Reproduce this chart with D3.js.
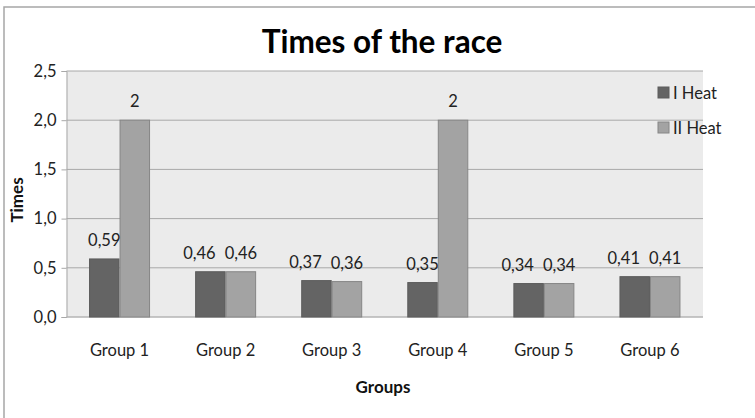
<!DOCTYPE html>
<html>
<head>
<meta charset="utf-8">
<script src="https://cdn.jsdelivr.net/npm/d3@7"></script>
<style>
  html, body { margin: 0; padding: 0; background: #fff; }
  svg { display: block; font-family: Lato, "Open Sans", sans-serif; }
</style>
</head>
<body>
<svg id="chart" width="755" height="418"></svg>
<script>
// Race times per group, two heats
const groups = ["Group 1", "Group 2", "Group 3", "Group 4", "Group 5", "Group 6"];
const heatNames = ["I Heat", "II Heat"];
const heat1 = [0.59, 0.46, 0.37, 0.35, 0.34, 0.41];
const heat2 = [2, 0.46, 0.36, 2, 0.34, 0.41];
const yTicks = [0, 0.5, 1.0, 1.5, 2.0, 2.5];

const fmt = v => String(v).replace(".", ",");
const tickFmt = v => v.toFixed(1).replace(".", ",");

const svg = d3.select("#chart");
const W = 755, H = 418;
const plot = { left: 66.5, right: 703, top: 71, bottom: 317 };
const FS = 16.5;

// Outer chart frame (continues past the right and bottom edges)
svg.append("rect")
  .attr("x", 4).attr("y", 7)
  .attr("width", W + 10).attr("height", H + 10)
  .attr("fill", "#fff")
  .attr("stroke", "#a6a6a6").attr("stroke-width", 1.5);

// Plot area background
svg.append("rect")
  .attr("x", plot.left).attr("y", plot.top)
  .attr("width", plot.right - plot.left).attr("height", plot.bottom - plot.top)
  .attr("fill", "#ebebeb");

const x0 = d3.scaleBand().domain(groups).range([plot.left, plot.right]).paddingInner(0.425).paddingOuter(0.2125);
const x1 = d3.scaleBand().domain(heatNames).range([0, x0.bandwidth()]);
const y = d3.scaleLinear().domain([0, 2.5]).range([plot.bottom, plot.top]);
const color = d3.scaleOrdinal().domain(heatNames).range(["#646464", "#a3a3a3"]);
const strokeCol = d3.scaleOrdinal().domain(heatNames).range(["#5c5c5c", "#868686"]);

// Horizontal gridlines
svg.append("g")
  .selectAll("line")
  .data(yTicks.filter(t => t > 0))
  .join("line")
  .attr("x1", plot.left).attr("x2", plot.right)
  .attr("y1", d => y(d)).attr("y2", d => y(d))
  .attr("stroke", "#a8a8a8").attr("stroke-width", 1);

// Y axis
const yAxis = svg.append("g")
  .attr("transform", `translate(${plot.left},0)`)
  .call(d3.axisLeft(y).tickValues(yTicks).tickFormat(tickFmt).tickSize(5).tickPadding(5));
yAxis.select(".domain").attr("stroke", "#a8a8a8");
yAxis.selectAll(".tick line").attr("stroke", "#a8a8a8");
yAxis.selectAll(".tick text")
  .attr("font-family", "Lato, sans-serif").attr("font-size", FS).attr("fill", "#222");

// X axis baseline
svg.append("line")
  .attr("x1", plot.left).attr("x2", plot.right)
  .attr("y1", plot.bottom).attr("y2", plot.bottom)
  .attr("stroke", "#b4b4b4").attr("stroke-width", 1.5);

// Bars
const rows = groups.map((g, i) => ({ group: g, values: [
  { key: heatNames[0], value: heat1[i] },
  { key: heatNames[1], value: heat2[i] }
]}));

const gGroups = svg.append("g").selectAll("g")
  .data(rows)
  .join("g")
  .attr("transform", d => `translate(${x0(d.group)},0)`);

gGroups.selectAll("rect")
  .data(d => d.values)
  .join("rect")
  .attr("x", d => x1(d.key) + 0.5)
  .attr("y", d => y(d.value))
  .attr("width", x1.bandwidth() - 1)
  .attr("height", d => y(0) - y(d.value))
  .attr("fill", d => color(d.key))
  .attr("stroke", d => strokeCol(d.key))
  .attr("stroke-width", 1);

// Value labels, centred over their bars
gGroups.each(function () {
  const labels = d3.select(this).selectAll("text")
    .data(d => d.values)
    .join("text")
    .attr("x", d => x1(d.key) + x1.bandwidth() / 2)
    .attr("y", d => y(d.value) - 13)
    .attr("text-anchor", "middle")
    .attr("font-size", FS)
    .attr("fill", "#222")
    .text(d => fmt(d.value));

  // When the two labels sit at about the same height, move the first one left
  const nodes = labels.nodes();
  const [a, b] = nodes.map(n => n.getBBox());
  const sameRow = Math.abs(a.y - b.y) < a.height;
  if (sameRow && a.x + a.width + 9 > b.x) {
    d3.select(nodes[0])
      .attr("text-anchor", "end")
      .attr("x", b.x - 9);
  }
});

// Category labels
svg.append("g").selectAll("text")
  .data(groups)
  .join("text")
  .attr("x", d => x0(d) + x0.bandwidth() / 2)
  .attr("y", 356)
  .attr("text-anchor", "middle")
  .attr("font-size", FS)
  .attr("fill", "#222")
  .text(d => d);

// Title
svg.append("text")
  .attr("x", 382).attr("y", 53)
  .attr("text-anchor", "middle")
  .attr("font-size", 31.5)
  .attr("font-weight", "bold")
  .attr("fill", "#000")
  .text("Times of the race");

// Axis titles
svg.append("text")
  .attr("x", 383).attr("y", 393)
  .attr("text-anchor", "middle")
  .attr("font-size", 17)
  .attr("font-weight", "bold")
  .attr("fill", "#111")
  .text("Groups");

svg.append("text")
  .attr("transform", "translate(23,200) rotate(-90)")
  .attr("text-anchor", "middle")
  .attr("font-size", 17)
  .attr("font-weight", "bold")
  .attr("fill", "#111")
  .text("Times");

// Legend
const legend = svg.append("g").selectAll("g")
  .data(heatNames)
  .join("g")
  .attr("transform", (d, i) => `translate(658,${87 + i * 35})`);
legend.append("rect")
  .attr("width", 11).attr("height", 11)
  .attr("fill", d => color(d))
  .attr("stroke", d => strokeCol(d)).attr("stroke-width", 1);
legend.append("text")
  .attr("x", 15).attr("y", 11.5)
  .attr("font-size", FS)
  .attr("fill", "#222")
  .text(d => d);
</script>
</body>
</html>
